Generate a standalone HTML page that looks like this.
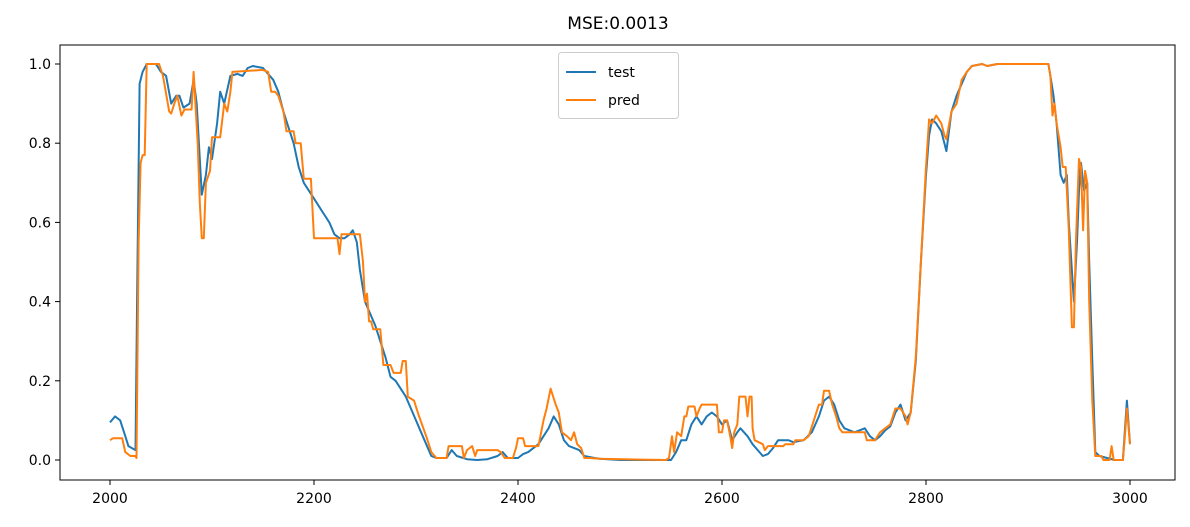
<!DOCTYPE html>
<html><head><meta charset="utf-8"><style>
body{margin:0;background:#fff;}
svg{display:block;font-family:"DejaVu Sans","Liberation Sans",sans-serif;}
</style></head><body>
<svg id="chart" width="1190" height="527">
<text x="618" y="29" text-anchor="middle" font-size="17">MSE:0.0013</text>
<g id="axes"></g>
<g id="lines"></g>
<rect x="60" y="45" width="1115" height="435" fill="none" stroke="#000" stroke-width="1"/>
<g>
<rect x="558.5" y="52.5" width="120" height="66" rx="3" fill="#fff" stroke="#ccc"/>
<line x1="566" y1="72" x2="596" y2="72" stroke="#1f77b4" stroke-width="2"/>
<text x="608" y="77" font-size="14">test</text>
<line x1="566" y1="100" x2="596" y2="100" stroke="#ff7f0e" stroke-width="2"/>
<text x="608" y="105" font-size="14">pred</text>
</g>
</svg>
<script>
const xTicks=[2000,2200,2400,2600,2800,3000];
const yTicks=[0.0,0.2,0.4,0.6,0.8,1.0];
const testX=[2000,2005,2010,2015,2018,2025,2027,2029,2032,2036,2045,2050,2055,2060,2065,2068,2072,2078,2082,2085,2090,2094,2097,2100,2105,2108,2112,2118,2125,2130,2135,2140,2150,2160,2165,2170,2175,2180,2185,2190,2195,2200,2205,2210,2215,2220,2225,2230,2235,2238,2242,2245,2250,2255,2260,2265,2270,2275,2280,2285,2290,2295,2300,2305,2310,2315,2320,2330,2335,2340,2350,2360,2370,2380,2385,2390,2400,2405,2410,2420,2425,2430,2435,2440,2445,2450,2455,2460,2465,2475,2480,2500,2550,2555,2560,2565,2570,2575,2580,2585,2590,2595,2600,2605,2610,2615,2618,2625,2630,2635,2640,2645,2650,2655,2665,2670,2680,2688,2695,2700,2705,2710,2715,2720,2730,2740,2745,2750,2755,2760,2765,2770,2775,2780,2785,2790,2795,2800,2803,2806,2810,2815,2820,2825,2830,2835,2840,2845,2855,2860,2870,2920,2922,2925,2928,2932,2935,2938,2940,2945,2948,2950,2952,2955,2958,2960,2963,2966,2970,2985,2993,2997,3000];
const testY=[0.095,0.11,0.10,0.06,0.035,0.025,0.5,0.95,0.98,1.0,1.0,0.98,0.97,0.9,0.92,0.92,0.89,0.90,0.96,0.9,0.67,0.72,0.79,0.76,0.85,0.93,0.9,0.97,0.975,0.97,0.99,0.995,0.99,0.96,0.93,0.88,0.84,0.80,0.74,0.70,0.68,0.66,0.64,0.62,0.60,0.57,0.56,0.56,0.57,0.58,0.55,0.48,0.40,0.37,0.34,0.30,0.26,0.21,0.20,0.18,0.16,0.13,0.10,0.07,0.04,0.01,0.005,0.005,0.025,0.01,0.002,0.0,0.002,0.01,0.02,0.005,0.005,0.015,0.02,0.04,0.06,0.08,0.11,0.09,0.05,0.035,0.03,0.025,0.01,0.005,0.003,0.0,0.0,0.02,0.05,0.05,0.09,0.11,0.09,0.11,0.12,0.11,0.09,0.10,0.05,0.07,0.08,0.06,0.04,0.025,0.01,0.015,0.03,0.05,0.05,0.045,0.05,0.07,0.11,0.15,0.16,0.14,0.10,0.08,0.07,0.08,0.06,0.05,0.06,0.075,0.085,0.12,0.14,0.10,0.12,0.25,0.5,0.72,0.82,0.86,0.85,0.83,0.78,0.88,0.92,0.95,0.98,0.995,1.0,0.995,1.0,1.0,0.97,0.92,0.85,0.72,0.70,0.72,0.60,0.40,0.55,0.68,0.75,0.68,0.70,0.50,0.25,0.02,0.01,0.0,0.0,0.15,0.04];
const predX=[2000,2003,2012,2015,2020,2025,2026,2028,2030,2032,2034,2036,2048,2052,2058,2060,2063,2066,2070,2073,2080,2082,2086,2088,2090,2092,2094,2098,2100,2108,2112,2115,2118,2120,2150,2155,2158,2162,2165,2170,2173,2180,2182,2187,2190,2197,2200,2223,2225,2227,2245,2248,2250,2252,2254,2256,2258,2265,2268,2275,2278,2285,2287,2290,2292,2298,2303,2310,2315,2320,2330,2332,2345,2347,2350,2355,2358,2360,2370,2380,2383,2387,2395,2398,2400,2405,2407,2420,2422,2425,2428,2432,2437,2440,2443,2448,2452,2455,2458,2462,2465,2470,2480,2545,2548,2551,2553,2556,2560,2563,2565,2567,2573,2575,2578,2580,2595,2597,2600,2602,2605,2608,2610,2612,2615,2617,2623,2625,2627,2629,2630,2632,2640,2642,2645,2660,2662,2670,2672,2680,2685,2690,2695,2698,2700,2705,2708,2712,2715,2718,2740,2742,2750,2755,2760,2765,2770,2775,2780,2782,2785,2790,2795,2800,2803,2806,2810,2815,2818,2820,2825,2830,2835,2840,2845,2855,2860,2870,2920,2922,2924,2926,2928,2932,2934,2937,2940,2943,2945,2947,2950,2952,2954,2956,2958,2960,2963,2966,2972,2974,2980,2982,2984,2993,2995,2997,3000];
const predY=[0.05,0.055,0.055,0.02,0.01,0.01,0.005,0.55,0.75,0.77,0.77,1.0,1.0,0.97,0.88,0.875,0.90,0.92,0.87,0.885,0.885,0.98,0.8,0.65,0.56,0.56,0.7,0.73,0.815,0.815,0.9,0.88,0.93,0.98,0.985,0.98,0.93,0.93,0.92,0.88,0.83,0.83,0.8,0.8,0.71,0.71,0.56,0.56,0.52,0.57,0.57,0.50,0.40,0.42,0.35,0.35,0.33,0.33,0.24,0.24,0.22,0.22,0.25,0.25,0.16,0.15,0.11,0.06,0.02,0.005,0.005,0.035,0.035,0.005,0.025,0.035,0.01,0.025,0.025,0.025,0.02,0.005,0.005,0.03,0.055,0.055,0.035,0.035,0.06,0.1,0.13,0.18,0.14,0.12,0.07,0.06,0.05,0.07,0.04,0.03,0.005,0.005,0.003,0.0,0.005,0.06,0.02,0.07,0.06,0.11,0.11,0.135,0.135,0.11,0.13,0.14,0.14,0.07,0.07,0.1,0.1,0.06,0.03,0.07,0.09,0.16,0.16,0.11,0.16,0.16,0.08,0.05,0.04,0.025,0.035,0.035,0.04,0.04,0.05,0.05,0.06,0.1,0.14,0.14,0.175,0.175,0.14,0.11,0.08,0.07,0.07,0.05,0.05,0.07,0.08,0.09,0.13,0.13,0.11,0.09,0.12,0.26,0.5,0.74,0.86,0.85,0.87,0.85,0.82,0.81,0.88,0.9,0.96,0.98,0.995,1.0,0.995,1.0,1.0,0.97,0.87,0.9,0.85,0.79,0.74,0.74,0.58,0.335,0.335,0.55,0.76,0.74,0.58,0.73,0.7,0.4,0.15,0.01,0.01,0.0,0.0,0.035,0.0,0.0,0.06,0.13,0.04];

const NS="http://www.w3.org/2000/svg";
const sx=v=>110+(v-2000)*1.02;
const sy=v=>460-v*396;
const axes=document.getElementById('axes');
xTicks.forEach(t=>{
  const l=document.createElementNS(NS,'line');
  l.setAttribute('x1',sx(t));l.setAttribute('x2',sx(t));l.setAttribute('y1',480);l.setAttribute('y2',485);l.setAttribute('stroke','#000');
  
  
  axes.appendChild(l);
  const tx=document.createElementNS(NS,'text');
  tx.setAttribute('x',sx(t));tx.setAttribute('y',503);tx.setAttribute('text-anchor','middle');tx.setAttribute('font-size','14');
  tx.textContent=t;
  
  
  axes.appendChild(tx);
});
yTicks.forEach(t=>{
  const l=document.createElementNS(NS,'line');
  l.setAttribute('x1',55);l.setAttribute('x2',60);l.setAttribute('y1',sy(t));l.setAttribute('y2',sy(t));l.setAttribute('stroke','#000');
  
  
  axes.appendChild(l);
  const tx=document.createElementNS(NS,'text');
  tx.setAttribute('x',51);tx.setAttribute('y',sy(t)+5);tx.setAttribute('text-anchor','end');tx.setAttribute('font-size','14');
  tx.textContent=t.toFixed(1);
  
  
  axes.appendChild(tx);
});
const lines=document.getElementById('lines');
function draw(xs,ys,color,name){
  const p=document.createElementNS(NS,'polyline');
  p.setAttribute('points',xs.map((x,i)=>sx(x).toFixed(1)+','+sy(ys[i]).toFixed(1)).join(' '));
  p.setAttribute('fill','none');p.setAttribute('stroke',color);p.setAttribute('stroke-width','2');p.setAttribute('stroke-linejoin','round');
  
  
  lines.appendChild(p);
}
draw(testX,testY,'#1f77b4','test-line');
draw(predX,predY,'#ff7f0e','pred-line');
</script>
</body></html>
